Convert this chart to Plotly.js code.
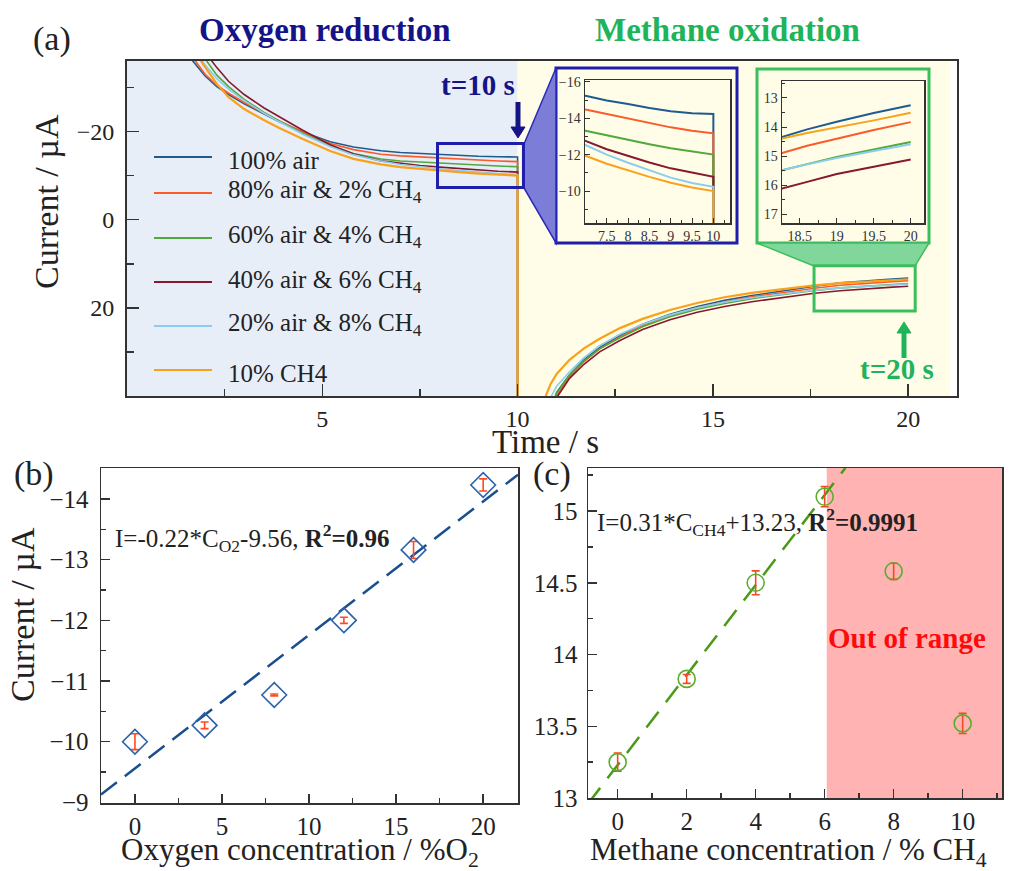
<!DOCTYPE html>
<html><head><meta charset="utf-8">
<script src="https://cdn.plot.ly/plotly-3.0.1.min.js"></script>
<style>html,body{margin:0;padding:0;background:#fff}#chart{width:1010px;height:871px}</style>
</head><body><div id="chart"></div>
<script>
// ================= DATA =================
const seriesNames = ['100% air', '80% air &amp; 2% CH<sub>4</sub>', '60% air &amp; 4% CH<sub>4</sub>',
  '40% air &amp; 6% CH<sub>4</sub>', '20% air &amp; 8% CH<sub>4</sub>', '10% CH4'];

// Phase 1: oxygen reduction (t = 0-10 s), current in uA
const tPhase1 = [1.4, 1.7, 2.0, 2.3, 2.6, 3.0, 3.5, 3.9, 4.5, 5.2, 5.8, 6.5, 7.0, 7.5, 8.0, 8.5, 9.0, 9.5, 10.0, 10.0];
const air100_p1 = [-39.5, -35.8, -32.6, -30.2, -28.4, -26.3, -24.0, -22.2, -19.9, -17.7, -16.5, -15.65, -15.23, -14.98, -14.78, -14.56, -14.39, -14.28, -14.23, 45];
const air80_p1  = [-41.0, -36.6, -33.0, -30.5, -28.7, -26.6, -24.2, -22.4, -19.9, -17.3, -15.9, -14.85, -14.48, -14.23, -13.99, -13.73, -13.50, -13.31, -13.17, 45];
const air60_p1  = [-46.0, -41.0, -36.5, -32.8, -30.2, -27.3, -24.4, -22.4, -19.6, -16.8, -15.0, -13.75, -13.31, -13.05, -12.80, -12.57, -12.35, -12.17, -12.01, 45];
const air40_p1  = [-47.0, -42.0, -38.0, -34.5, -31.4, -28.4, -25.4, -23.3, -20.3, -17.0, -14.9, -13.35, -12.76, -12.30, -11.92, -11.57, -11.25, -11.00, -10.79, 45];
const air20_p1  = [-44.0, -39.0, -35.1, -32.0, -29.6, -27.0, -24.2, -22.2, -19.4, -16.6, -14.7, -13.30, -12.53, -12.00, -11.56, -11.13, -10.74, -10.45, -10.24, 45];
const ch4_10_p1 = [-43.0, -38.6, -34.6, -30.8, -27.8, -25.1, -22.6, -20.8, -18.3, -15.6, -13.8, -12.55, -11.94, -11.50, -11.12, -10.78, -10.46, -10.20, -10.00, 45];

// Phase 2: methane oxidation (t = 10-20 s)
const tPhase2 = [10.66, 10.72, 10.85, 11.0, 11.33, 11.7, 12.1, 12.62, 13.2, 13.9, 14.6, 15.3, 16.0, 16.8, 17.6, 18.26, 18.6, 19.0, 19.5, 20.0];
const air100_p2 = [52, 48, 43.0, 39.2, 35.2, 31.8, 29.0, 26.3, 23.7, 21.45, 19.7, 18.3, 17.2, 16.1, 15.1, 14.34, 14.08, 13.82, 13.52, 13.25];
const air80_p2  = [53, 49, 44.0, 40.0, 35.6, 32.2, 29.3, 26.6, 24.0, 21.7, 20.0, 18.6, 17.5, 16.5, 15.55, 14.89, 14.64, 14.39, 14.10, 13.83];
const air60_p2  = [52, 48, 43.2, 39.4, 35.2, 32.0, 29.3, 26.8, 24.3, 22.0, 20.3, 19.0, 17.9, 16.9, 16.05, 15.48, 15.27, 15.03, 14.77, 14.51];
const air40_p2  = [54, 50, 44.5, 40.4, 36.0, 32.8, 30.0, 27.4, 24.9, 22.7, 21.0, 19.7, 18.6, 17.6, 16.7, 16.11, 15.88, 15.61, 15.36, 15.11];
const air20_p2  = [48, 44.5, 40.3, 37.8, 34.5, 31.3, 28.6, 26.0, 23.7, 21.6, 20.0, 18.7, 17.7, 16.8, 16.0, 15.48, 15.28, 15.06, 14.82, 14.59];
const ch4_10_p2 = [43, 40, 37.2, 35.0, 31.8, 29.2, 27.0, 24.6, 22.5, 20.5, 18.9, 17.6, 16.6, 15.7, 14.9, 14.39, 14.20, 14.02, 13.77, 13.51];

// (b) oxygen calibration
const o2Conc = [0, 4, 8, 12, 16, 20];
const o2Current = [-10.0, -10.27, -10.77, -12.0, -13.16, -14.23];
const o2Err = [0.13, 0.055, 0.015, 0.05, 0.14, 0.10];
const o2FitX = [-1.95, 22];
const o2FitY = [-9.13, -14.40];

// (c) methane calibration
const ch4Conc = [0, 2, 4, 6, 8, 10];
const ch4Current = [13.25, 13.83, 14.50, 15.10, 14.58, 13.52];
const ch4Err = [0.064, 0.031, 0.083, 0.07, 0.056, 0.07];
const ch4FitX = [-0.86, 6.6];
const ch4FitY = [12.96, 15.30];

// tick labels
const mainXTicks = [5, 10, 15, 20];
const mainYTicks = [-20, 0, 20];
const mainYTickText = ['\u221220', '0', '20'];
const in1XTicks = [7.5, 8, 8.5, 9, 9.5, 10];
const in1YTicks = [-16, -14, -12, -10];
const in1YTickText = ['\u221216', '\u221214', '\u221212', '\u221210'];
const in2XTicks = [18.5, 19, 19.5, 20];
const in2YTicks = [13, 14, 15, 16, 17];
const bXTicks = [0, 5, 10, 15, 20];
const bYTicks = [-14, -13, -12, -11, -10, -9];
const bYTickText = ['\u221214', '\u221213', '\u221212', '\u221211', '\u221210', '\u22129'];
const cXTicks = [0, 2, 4, 6, 8, 10];
const cYTicks = [13, 13.5, 14, 14.5, 15];
const cYTickText = ['13', '13.5', '14', '14.5', '15'];

// ================= STYLE =================
const seriesColors = ['#1f5b8e', '#fb5a2a', '#52a83a', '#86182f', '#8ccdef', '#f9a11b'];
const FONT = 'Liberation Serif, Times New Roman, serif';
const W = 1010, H = 871;
const PX = v => v / W;
const PY = v => 1 - v / H;

const p1 = [air100_p1, air80_p1, air60_p1, air40_p1, air20_p1, ch4_10_p1];
const p2 = [air100_p2, air80_p2, air60_p2, air40_p2, air20_p2, ch4_10_p2];

const traces = [];
const axesSets = [['x', 'y', 1.6], ['x2', 'y2', 2], ['x3', 'y3', 2]];
axesSets.forEach(([xa, ya, w]) => {
  for (let i = 0; i < 6; i++) {
    const lw = (xa === 'x' && i === 5) ? 2.2 : w;
    traces.push({
      type: 'scatter', mode: 'lines', xaxis: xa, yaxis: ya,
      x: tPhase1.concat([null], tPhase2), y: p1[i].concat([null], p2[i]),
      line: {color: seriesColors[i], width: lw}, name: seriesNames[i],
      showlegend: false, hoverinfo: 'skip'
    });
  }
});

traces.push({type: 'scatter', mode: 'lines', xaxis: 'x4', yaxis: 'y4', x: o2FitX, y: o2FitY,
  line: {color: '#1a4f8f', width: 2.5, dash: '20px,10px'}, showlegend: false});
traces.push({type: 'scatter', mode: 'markers', xaxis: 'x4', yaxis: 'y4', x: o2Conc, y: o2Current,
  marker: {symbol: 'diamond-open', size: 19, color: '#2a63a8', line: {width: 1.6}},
  error_y: {type: 'data', array: o2Err, visible: true, color: '#ff4a22', thickness: 1.6, width: 4},
  showlegend: false});

traces.push({type: 'scatter', mode: 'lines', xaxis: 'x5', yaxis: 'y5', x: ch4FitX, y: ch4FitY,
  line: {color: '#4a9a18', width: 2.5, dash: '20px,12px'}, showlegend: false});
traces.push({type: 'scatter', mode: 'markers', xaxis: 'x5', yaxis: 'y5', x: ch4Conc, y: ch4Current,
  marker: {symbol: 'circle-open', size: 17, color: '#5cad2e', line: {width: 1.6}},
  error_y: {type: 'data', array: ch4Err, visible: true, color: '#f24a22', thickness: 1.6, width: 4},
  showlegend: false});

function axisBase(extra) {
  return Object.assign({
    showline: true, mirror: true, linecolor: '#333', linewidth: 1.5,
    showgrid: false, zeroline: false, ticks: 'inside', tickcolor: '#333',
    tickfont: {family: FONT, size: 24, color: '#222'}, tickmode: 'array', fixedrange: true
  }, extra);
}
function minorT(vals, len) {
  return {tickvals: vals, ticks: 'inside', ticklen: len, tickwidth: 1.5, tickcolor: '#333'};
}
const insetFont = {family: FONT, size: 14, color: '#333'};
const panelFont = {family: FONT, size: 25, color: '#222'};

const layout = {
  width: W, height: H, margin: {l: 0, r: 0, t: 0, b: 0},
  paper_bgcolor: '#ffffff', plot_bgcolor: 'rgba(0,0,0,0)', showlegend: false,
  font: {family: FONT, color: '#222'},
  xaxis: axisBase({domain: [PX(127), PX(957)], range: [0, 21.25], anchor: 'y',
    tickvals: mainXTicks, ticklen: 12, tickwidth: 1.5, linewidth: 2,
    minor: minorT([2.5, 7.5, 12.5, 17.5], 7)}),
  yaxis: axisBase({domain: [PY(396), PY(61)], range: [40, -36], anchor: 'x',
    tickvals: mainYTicks, ticktext: mainYTickText, ticklen: 12, tickwidth: 1.5, linewidth: 2,
    ticklabelstandoff: 6, minor: minorT([-30, -10, 10, 30], 7)}),
  xaxis2: axisBase({domain: [PX(585), PX(730)], range: [6.99, 10.39], anchor: 'y2',
    tickvals: in1XTicks, ticklen: 5, tickwidth: 1, tickfont: insetFont,
    minor: {dtick: 0.25, tick0: 7, ticks: 'inside', ticklen: 3, tickwidth: 1, tickcolor: '#333'}}),
  yaxis2: axisBase({domain: [PY(223), PY(80)], range: [-8.25, -16.1], anchor: 'x2',
    tickvals: in1YTicks, ticktext: in1YTickText, ticklen: 5, tickwidth: 1, tickfont: insetFont,
    minor: {tickvals: [-15, -13, -11, -9], ticks: 'inside', ticklen: 3, tickwidth: 1, tickcolor: '#333'}}),
  xaxis3: axisBase({domain: [PX(782), PX(924)], range: [18.26, 20.18], anchor: 'y3',
    tickvals: in2XTicks, ticklen: 5, tickwidth: 1, tickfont: insetFont,
    minor: {dtick: 0.25, tick0: 18.25, ticks: 'inside', ticklen: 3, tickwidth: 1, tickcolor: '#333'}}),
  yaxis3: axisBase({domain: [PY(223), PY(81)], range: [17.29, 12.42], anchor: 'x3',
    tickvals: in2YTicks, ticklen: 5, tickwidth: 1, tickfont: insetFont,
    minor: {dtick: 0.5, tick0: 12.5, ticks: 'inside', ticklen: 3, tickwidth: 1, tickcolor: '#333'}}),
  xaxis4: axisBase({domain: [PX(101), PX(518)], range: [-1.95, 22], anchor: 'y4',
    tickvals: bXTicks, ticklen: 9, tickwidth: 1.5, tickfont: panelFont,
    minor: minorT([2.5, 7.5, 12.5, 17.5], 5)}),
  yaxis4: axisBase({domain: [PY(803), PY(468)], range: [-8.99, -14.51], anchor: 'x4',
    tickvals: bYTicks, ticktext: bYTickText, ticklen: 9, tickwidth: 1.5, ticklabelstandoff: 6,
    tickfont: panelFont, minor: minorT([-14.5, -13.5, -12.5, -11.5, -10.5, -9.5], 5)}),
  xaxis5: axisBase({domain: [PX(588), PX(1002)], range: [-0.86, 11.14], anchor: 'y5',
    tickvals: cXTicks, ticklen: 9, tickwidth: 1.5, tickfont: panelFont,
    minor: minorT([1, 3, 5, 7, 9, 11], 5)}),
  yaxis5: axisBase({domain: [PY(798), PY(468)], range: [13, 15.3], anchor: 'x5',
    tickvals: cYTicks, ticktext: cYTickText, ticklen: 9, tickwidth: 1.5, ticklabelstandoff: 4,
    tickfont: panelFont, minor: minorT([13.25, 13.75, 14.25, 14.75, 15.25], 5)}),
  shapes: [], annotations: []
};

const S = layout.shapes, A = layout.annotations;
// main backgrounds
S.push({type: 'rect', layer: 'below', xref: 'x', yref: 'y domain', x0: 0, x1: 10, y0: 0, y1: 1, fillcolor: '#e8eef8', line: {width: 0}});
S.push({type: 'rect', layer: 'below', xref: 'x', yref: 'y domain', x0: 10, x1: 21.08, y0: 0, y1: 1, fillcolor: '#fffde8', line: {width: 0}});
// inset outer boxes
S.push({type: 'rect', layer: 'below', xref: 'paper', yref: 'paper', x0: PX(556), x1: PX(737), y0: PY(243), y1: PY(68), fillcolor: '#fffde8', line: {color: '#1e1eaa', width: 3}});
S.push({type: 'rect', layer: 'below', xref: 'paper', yref: 'paper', x0: PX(757), x1: PX(929), y0: PY(243), y1: PY(69), fillcolor: '#fffde8', line: {color: '#3bbf5c', width: 3}});
// connectors
S.push({type: 'path', layer: 'above', xref: 'paper', yref: 'paper',
  path: `M${PX(524)},${PY(144)} L${PX(556)},${PY(68)} L${PX(556)},${PY(243)} L${PX(524)},${PY(188)} Z`,
  fillcolor: '#7b7dd6', line: {color: '#2a2ab8', width: 1.5}});
S.push({type: 'path', layer: 'above', xref: 'paper', yref: 'paper',
  path: `M${PX(757)},${PY(243)} L${PX(929)},${PY(243)} L${PX(915)},${PY(266)} L${PX(814)},${PY(266)} Z`,
  fillcolor: '#80d69b', line: {color: '#3bbf5c', width: 1.5}});
// zoom rectangles on main plot
S.push({type: 'rect', layer: 'above', xref: 'x', yref: 'y', x0: 7.95, x1: 10.15, y0: -17.3, y1: -7.3, line: {color: '#1e1eaa', width: 3}});
S.push({type: 'rect', layer: 'above', xref: 'x', yref: 'y', x0: 17.59, x1: 20.18, y0: 10.45, y1: 20.7, line: {color: '#3bbf5c', width: 3}});
// (c) out-of-range region
S.push({type: 'rect', layer: 'below', xref: 'x5', yref: 'y5 domain', x0: 6.06, x1: 11.14, y0: 0, y1: 1, fillcolor: '#ffb3b3', line: {width: 0}});

// arrows (shaft + head)
function arrow(x, yTail, yTip, color) {
  const dir = yTip > yTail ? 1 : -1;
  const yBase = yTip - dir * 11;
  S.push({type: 'line', layer: 'above', xref: 'paper', yref: 'paper', x0: PX(x), x1: PX(x), y0: PY(yTail), y1: PY(yBase),
    line: {color: color, width: 5}});
  S.push({type: 'path', layer: 'above', xref: 'paper', yref: 'paper',
    path: `M${PX(x - 7)},${PY(yBase)} L${PX(x + 7)},${PY(yBase)} L${PX(x)},${PY(yTip)} Z`,
    fillcolor: color, line: {color: color, width: 1}});
}
arrow(518, 102, 138, '#141488');
arrow(904, 358, 322, '#1fb35a');

// legend (custom)
const legendRowY = [157, 193, 238, 282, 326, 370];
seriesNames.forEach((n, i) => {
  S.push({type: 'line', xref: 'paper', yref: 'paper', x0: PX(154), x1: PX(212), y0: PY(legendRowY[i]), y1: PY(legendRowY[i]),
    line: {color: seriesColors[i], width: 2}});
  const hasSub = n.indexOf('<sub>') >= 0;
  A.push({xref: 'paper', yref: 'paper', x: PX(226), y: PY(legendRowY[i] + (hasSub ? -1 : 3)), xanchor: 'left', yanchor: 'middle',
    text: n, showarrow: false, font: {family: FONT, size: 25, color: '#222'}});
});

function txt(x, y, text, size, color, opts) {
  A.push(Object.assign({xref: 'paper', yref: 'paper', x: PX(x), y: PY(y), text: text, showarrow: false,
    xanchor: 'center', yanchor: 'middle', font: {family: FONT, size: size, color: color || '#222'}}, opts || {}));
}
txt(52, 39, '(a)', 34);
txt(324, 30, '<b>Oxygen reduction</b>', 33, '#141488');
txt(727, 30, '<b>Methane oxidation</b>', 33, '#1fb35a');
txt(478, 85, '<b>t=10 s</b>', 29, '#141488');
txt(897, 369, '<b>t=20 s</b>', 29, '#1fb35a');
txt(47, 202, 'Current / \u00b5A', 34, '#222', {textangle: -90});
txt(545, 442, 'Time / s', 33);
txt(34, 474, '(b)', 34);
txt(22, 615, 'Current / \u00b5A', 34, '#222', {textangle: -90});
txt(300, 852, 'Oxygen concentration / %O<sub>2</sub>', 31);
txt(113, 538, 'I=-0.22*C<sub>O2</sub>-9.56, <b>R<sup>2</sup>=0.96</b>', 25, '#222', {xanchor: 'left'});
txt(552, 474, '(c)', 34);
txt(788, 852, 'Methane concentration / % CH<sub>4</sub>', 31);
txt(595, 522, 'I=0.31*C<sub>CH4</sub>+13.23, <b>R<sup>2</sup>=0.9991</b>', 25, '#222', {xanchor: 'left'});
txt(907, 638, '<b>Out of range</b>', 29, '#ff0a0a');

Plotly.newPlot('chart', traces, layout, {displayModeBar: false, staticPlot: true});
</script>
</body></html>
